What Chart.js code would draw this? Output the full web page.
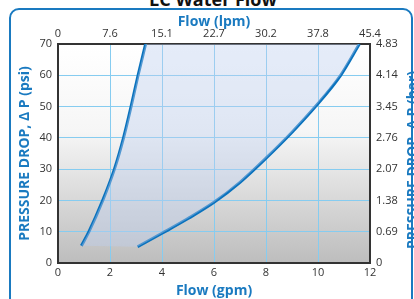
<!DOCTYPE html>
<html>
<head>
<meta charset="utf-8">
<script src="https://cdn.jsdelivr.net/npm/chart.js@4.4.1/dist/chart.umd.min.js"></script>
<style>
  html, body { margin: 0; padding: 0; background: #fff; }
  #wrap { position: relative; width: 414px; height: 299px; overflow: hidden; font-family: 'Open Sans', sans-serif; }
  #frame { position: absolute; left: 9px; top: 8px; width: 400px; height: 330px; border: 2px solid #1a7ac0; border-radius: 10px; }
  #title { position: absolute; left: 0; width: 426px; top: -10px; text-align: center; font-weight: bold; font-size: 18px; line-height: 18px; color: #111; }
  #lpmTitle { position: absolute; left: 114px; top: 13px; width: 200px; line-height: 16px; text-align: center;
    font-weight: bold; font-size: 14px; color: #1a7ac0; }
  #barTitle { position: absolute; left: 312px; top: 152px; width: 200px; height: 16px; line-height: 16px; text-align: center;
    transform: rotate(-90deg); font-weight: bold; font-size: 14px; color: #1a7ac0; white-space: nowrap; }
  canvas { position: absolute; left: 0; top: 0; }
</style>
</head>
<body>
<div id="wrap">
  <div id="frame"></div>
  <div id="title">LC Water Flow</div>
  <canvas id="chart" width="414" height="299"></canvas>
  <div id="lpmTitle">Flow (lpm)</div>
  <div id="barTitle">PRESSURE DROP, Δ P (bar)</div>
</div>
<script>
// ---- data ----
const gpmTicks = [0, 2, 4, 6, 8, 10, 12];
const lpmLabels = ['0', '7.6', '15.1', '22.7', '30.2', '37.8', '45.4'];
const psiTicks = [0, 10, 20, 30, 40, 50, 60, 70];
const barLabels = ['0', '0.69', '1.38', '2.07', '2.76', '3.45', '4.14', '4.83'];

const leftGpm = [0.90, 1.19, 1.72, 2.17, 2.52, 2.81, 3.08, 3.37];
const leftPsi = [5.5, 10, 20, 30, 40, 50, 60, 70];
const rightGpm = [3.06, 4, 5, 6, 7, 8, 9, 9.9, 10.87, 11.59];
const rightPsi = [5.2, 9.5, 14.2, 19.4, 25.8, 33.5, 41.8, 50, 60, 70];

const BLUE = '#0a72bd';
const TITLE_BLUE = '#1a7ac0';
const GRID = '#86ccf0';

const toPts = (xs, ys) => xs.map((x, i) => ({ x, y: ys[i] }));
const leftCurve = toPts(leftGpm, leftPsi);
const rightCurve = toPts(rightGpm, rightPsi);
// operating region: up the left curve, back down the right one
const region = leftCurve.concat(rightCurve.slice().reverse());

// gradient plot background
const plotBg = {
  id: 'plotBg',
  beforeDraw(chart) {
    const { ctx, chartArea: a } = chart;
    const g = ctx.createLinearGradient(0, a.top, 0, a.bottom);
    g.addColorStop(0, '#ffffff');
    g.addColorStop(0.4, '#f6f6f6');
    g.addColorStop(1, '#bdbdbd');
    ctx.save();
    ctx.fillStyle = g;
    ctx.fillRect(a.left, a.top, a.right - a.left, a.bottom - a.top);
    ctx.restore();
  }
};

const tickFont = { family: 'Open Sans', size: 11 };
const titleFont = { family: 'Open Sans', size: 14, weight: 'bold' };
const border = { display: true, color: '#333', width: 2 };
const curve = { showLine: true, borderColor: BLUE, borderWidth: 3, pointRadius: 0, cubicInterpolationMode: 'monotone', fill: false };

new Chart(document.getElementById('chart'), {
  type: 'scatter',
  data: {
    datasets: [
      { data: region, showLine: true, fill: 'shape', backgroundColor: 'rgba(190,208,240,0.4)', borderWidth: 0, pointRadius: 0, tension: 0 },
      { ...curve, data: leftCurve },
      { ...curve, data: rightCurve },
    ],
  },
  options: {
    responsive: false, animation: false,
    layout: { padding: 0 },
    plugins: { legend: { display: false }, tooltip: { enabled: false } },
    scales: {
      x: {
        type: 'linear', position: 'bottom', min: 0, max: 12,
        afterBuildTicks: s => { s.ticks = gpmTicks.map(v => ({ value: v })); },
        afterFit: s => { s.height = 36; },
        ticks: { color: '#333', font: tickFont, padding: 3, maxRotation: 0 },
        grid: { color: GRID, lineWidth: 1, drawTicks: false },
        border,
        title: { display: true, text: 'Flow (gpm)', color: TITLE_BLUE, font: titleFont, padding: { top: 0, bottom: 0 } },
      },
      x2: {
        type: 'linear', position: 'top', min: 0, max: 12,
        afterBuildTicks: s => { s.ticks = gpmTicks.map(v => ({ value: v })); },
        afterFit: s => { s.height = 44; },
        ticks: { color: '#333', font: tickFont, padding: 4, maxRotation: 0, callback: (v, i) => lpmLabels[i] },
        grid: { display: false, drawTicks: false },
        border,
      },
      y: {
        type: 'linear', position: 'left', min: 0, max: 70,
        afterBuildTicks: s => { s.ticks = psiTicks.map(v => ({ value: v })); },
        afterFit: s => { s.width = 58; },
        ticks: { color: '#333', font: tickFont, padding: 6 },
        grid: { color: GRID, lineWidth: 1, drawTicks: false },
        border,
        title: { display: true, text: 'PRESSURE DROP, \u0394 P (psi)', color: TITLE_BLUE, font: titleFont, padding: { top: 17, bottom: 0 } },
      },
      y2: {
        type: 'linear', position: 'right', min: 0, max: 70,
        afterBuildTicks: s => { s.ticks = psiTicks.map(v => ({ value: v })); },
        afterFit: s => { s.width = 44; },
        ticks: { color: '#333', font: tickFont, padding: 6, callback: (v, i) => barLabels[i] },
        grid: { display: false, drawTicks: false },
        border,
      },
    },
  },
  plugins: [plotBg],
});
</script>
</body>
</html>
